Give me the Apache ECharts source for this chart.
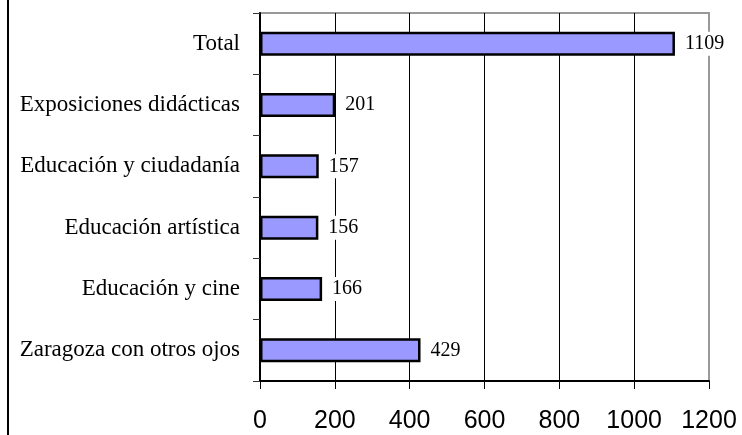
<!DOCTYPE html>
<html>
<head>
<meta charset="utf-8">
<script src="https://cdn.jsdelivr.net/npm/echarts@6/dist/echarts.min.js"></script>
<style>
  html, body { margin: 0; padding: 0; background: #fff; }
  #chart { width: 742px; height: 435px; }
</style>
</head>
<body>
<div id="chart"></div>
<script>
const categories = [
  'Total',
  'Exposiciones didácticas',
  'Educación y ciudadanía',
  'Educación artística',
  'Educación y cine',
  'Zaragoza con otros ojos',
]
const values = [1109, 201, 157, 156, 166, 429]
const xTicks = { min: 0, max: 1200, interval: 200 }

const serif = '"Liberation Serif", "Times New Roman", serif'
const sans = '"Liberation Sans", Arial, sans-serif'

const chart = echarts.init(document.getElementById('chart'))
chart.setOption({
  animation: false,
  backgroundColor: '#fff',
  grid: {
    left: 260, right: 33, top: 13, bottom: 54,
    show: true, borderColor: '#999', borderWidth: 2,
  },
  xAxis: {
    type: 'value',
    min: xTicks.min,
    max: xTicks.max,
    interval: xTicks.interval,
    axisLine: { show: true, lineStyle: { color: '#000', width: 2 } },
    axisTick: { show: true, length: 8, lineStyle: { color: '#000' } },
    axisLabel: {
      color: '#000', fontFamily: sans, fontSize: 25, margin: 28,
      formatter: v => String(v),
    },
    splitLine: { show: true, showMaxLine: false, lineStyle: { color: '#000', width: 1 } },
  },
  yAxis: {
    type: 'category',
    inverse: true,
    data: categories,
    axisLine: { show: true, lineStyle: { color: '#000', width: 2 } },
    axisTick: { show: true, length: 7, lineStyle: { color: '#333' } },
    axisLabel: { color: '#000', fontFamily: serif, fontSize: 23, margin: 20 },
  },
  graphic: [{
    type: 'line',
    shape: { x1: 8, y1: 0, x2: 8, y2: 435 },
    style: { stroke: '#000', lineWidth: 2 },
  }],
  series: [{
    type: 'bar',
    data: values,
    barWidth: 24,
    itemStyle: { color: '#9999ff', borderColor: '#000', borderWidth: 2.5 },
    label: {
      show: true,
      position: 'right',
      distance: 8,
      color: '#000',
      fontFamily: serif,
      fontSize: 20,
      backgroundColor: '#fff',
      padding: [2, 2],
    },
  }],
})
</script>
</body>
</html>
